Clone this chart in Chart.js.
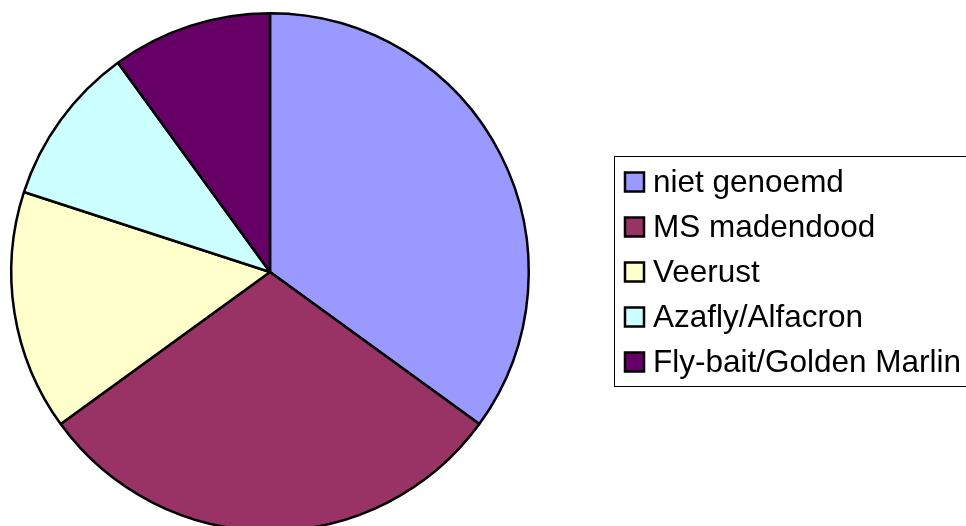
<!DOCTYPE html>
<html>
<head>
<meta charset="utf-8">
<style>
  html, body { margin: 0; padding: 0; background: #fff; overflow: hidden; }
  #pie { display: block; }
</style>
</head>
<body>
<canvas id="pie" width="966" height="540" style="width:966px;height:540px"></canvas>
<script src="https://cdn.jsdelivr.net/npm/chart.js"></script>
<script>
  const labels = ['niet genoemd', 'MS madendood', 'Veerust', 'Azafly/Alfacron', 'Fly-bait/Golden Marlin'];
  const values = [35, 30, 15, 10, 10];
  const colors = ['#9999FF', '#993366', '#FFFFCC', '#CCFFFF', '#660066'];

  // legend drawn by hand, boxed like the original
  const boxLegend = {
    id: 'boxLegend',
    afterDraw(chart) {
      const ctx = chart.ctx;
      const ds = chart.data.datasets[0];
      ctx.save();
      ctx.strokeStyle = '#000';
      ctx.lineWidth = 1;
      ctx.strokeRect(614.5, 156.5, 400, 230);
      ctx.font = '31.5px "Liberation Sans", Arial, sans-serif';
      ctx.textBaseline = 'middle';
      chart.data.labels.forEach((lab, i) => {
        const y = 182 + i * 45;
        ctx.fillStyle = ds.backgroundColor[i];
        ctx.fillRect(625, y - 9.5, 19, 19);
        ctx.lineWidth = 2.5;
        ctx.strokeRect(625, y - 9.5, 19, 19);
        ctx.fillStyle = '#000';
        ctx.fillText(lab, 653, y + 1);
      });
      ctx.restore();
    }
  };

  new Chart(document.getElementById('pie').getContext('2d'), {
    type: 'pie',
    data: {
      labels,
      datasets: [{
        data: values,
        backgroundColor: colors,
        borderColor: '#000',
        borderWidth: 2.5
      }]
    },
    options: {
      responsive: false,
      animation: false,
      layout: { padding: { left: 10, top: 12, right: 436, bottom: 8 } },
      plugins: {
        legend: { display: false },
        tooltip: { enabled: false }
      }
    },
    plugins: [boxLegend]
  });
</script>
</body>
</html>
